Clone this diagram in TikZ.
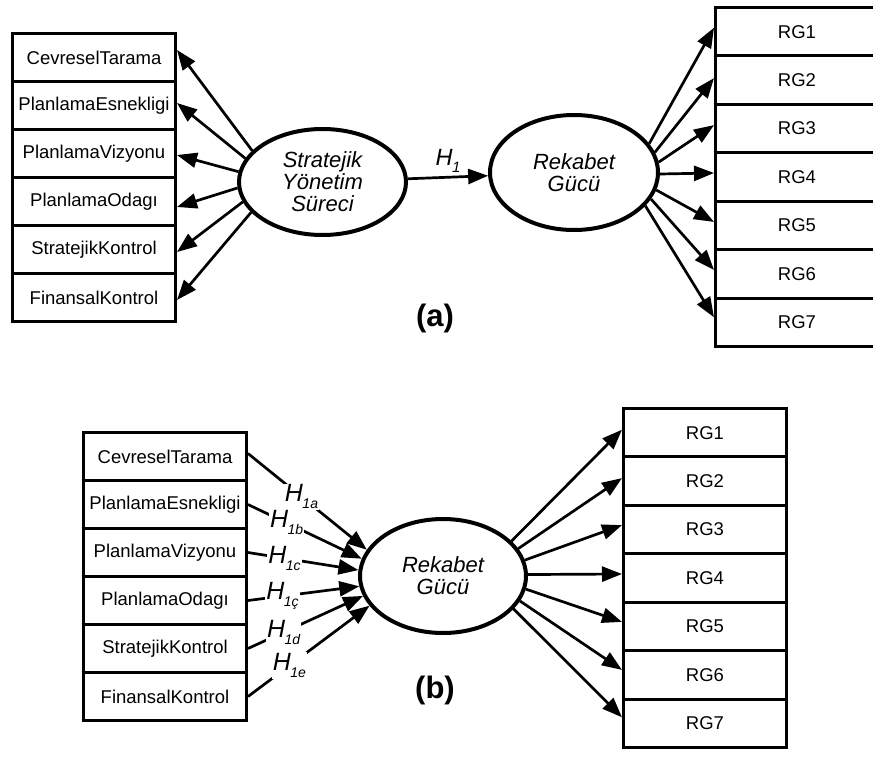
\documentclass[tikz,border=0pt]{standalone}
\usepackage{fontspec}
\setmainfont{Liberation Sans}
\usetikzlibrary{arrows.meta,shapes.geometric}
\newcommand{\Hs}[2][14]{H\kern-0.5pt\raisebox{-7pt}{\fontsize{#1}{#1}\selectfont #2}}
\begin{document}
\begin{tikzpicture}[x=1pt,y=-1pt,
  box/.style={draw, line width=3pt, minimum width=163pt, minimum height=48pt, inner sep=0pt, font=\fontsize{18.5}{20}\selectfont},
  rbox/.style={box, minimum height=48.43pt},
  ell/.style={draw, ellipse, line width=4pt, inner sep=0pt, align=center, font=\itshape\fontsize{22}{22}\selectfont},
  arr/.style={line width=2.7pt, -{Triangle[length=20pt,width=15pt]}},
  hl/.style={fill=white, inner sep=1pt, font=\itshape\fontsize{25}{25}\selectfont},
  lab/.style={font=\bfseries\fontsize{31}{31}\selectfont}]
\useasboundingbox (0,0) rectangle (873,763);
\clip (0,0) rectangle (873,763);

% ---------- (a) ----------
\node[box] (la1) at (94,57.5) {CevreselTarama};
\node[box] (la2) at (94,105.5) {PlanlamaEsnekligi};
\node[box] (la3) at (94,153.5) {PlanlamaVizyonu};
\node[box] (la4) at (94,201.5) {PlanlamaOdagı};
\node[box] (la5) at (94,249.5) {StratejikKontrol};
\node[box] (la6) at (94,297.5) {FinansalKontrol};

\node[ell, minimum width=167pt, minimum height=106pt] (ea) at (322.5,182) {Stratejik\\Yönetim\\Süreci};
\node[ell, minimum width=168pt, minimum height=115pt] (eb) at (574,172.5) {Rekabet\\Gücü};

\node[rbox] (ra1) at (797,31.7) {RG1};
\node[rbox] (ra2) at (797,80.1) {RG2};
\node[rbox] (ra3) at (797,128.6) {RG3};
\node[rbox] (ra4) at (797,177.0) {RG4};
\node[rbox] (ra5) at (797,225.4) {RG5};
\node[rbox] (ra6) at (797,273.9) {RG6};
\node[rbox] (ra7) at (797,322.3) {RG7};

\draw[arr] (ea.156) -- ([yshift=7.5pt]la1.east);
\draw[arr] (ea.163) -- ([yshift=2.5pt]la2.east);
\draw[arr] (ea.173) -- ([yshift=-1.5pt]la3.east);
\draw[arr] (ea.184) -- ([yshift=-5.5pt]la4.east);
\draw[arr] (ea.194) -- ([yshift=-2.5pt]la5.east);
\draw[arr] (ea.203) -- ([yshift=-2.5pt]la6.east);

\draw[arr] (ea) -- node[midway, above=3pt, inner sep=0pt, font=\itshape\fontsize{23.5}{23.5}\selectfont] {\Hs[15]{1}} (eb);

\draw[arr] (eb.21) -- ([yshift=4pt]ra1.west);
\draw[arr] (eb.14.5) -- ([yshift=2pt]ra2.west);
\draw[arr] (eb.7) -- ([yshift=3.5pt]ra3.west);
\draw[arr] (eb.-1) -- ([yshift=4pt]ra4.west);
\draw[arr] (eb.-12) -- ([yshift=3.5pt]ra5.west);
\draw[arr] (eb.-19) -- ([yshift=4pt]ra6.west);
\draw[arr] (eb.-25) -- ([yshift=5pt]ra7.west);

\node[lab] (capa) at (435,318) {(a)};

% ---------- (b) ----------
\node[box] (lb1) at (165,456.5) {CevreselTarama};
\node[box] (lb2) at (165,504.5) {PlanlamaEsnekligi};
\node[box] (lb3) at (165,552.5) {PlanlamaVizyonu};
\node[box] (lb4) at (165,600.5) {PlanlamaOdagı};
\node[box] (lb5) at (165,648.5) {StratejikKontrol};
\node[box] (lb6) at (165,696.5) {FinansalKontrol};

\node[ell, minimum width=166pt, minimum height=114pt] (ec) at (443,576) {Rekabet\\Gücü};

\node[rbox] (rb1) at (705,432.7) {RG1};
\node[rbox] (rb2) at (705,481.1) {RG2};
\node[rbox] (rb3) at (705,529.6) {RG3};
\node[rbox] (rb4) at (705,578.0) {RG4};
\node[rbox] (rb5) at (705,626.4) {RG5};
\node[rbox] (rb6) at (705,674.9) {RG6};
\node[rbox] (rb7) at (705,723.3) {RG7};

\draw[arr] ([yshift=3pt]lb1.east) -- node[hl, pos=0.45] {\Hs{1a}} (ec.161);
\draw[arr] (lb2.east) -- node[hl, pos=0.34] {\Hs{1b}} (ec.168);
\draw[arr] (lb3.east) -- node[hl, pos=0.33] {\Hs{1c}} (ec.176);
\draw[arr] (lb4.east) -- node[hl, pos=0.31] {\Hs{1ç}} (ec.187);
\draw[arr] (lb5.east) -- node[hl, pos=0.31] {\Hs{1d}} (ec.194);
\draw[arr] (lb6.east) -- node[hl, pos=0.34] {\Hs{1e}} (ec.202);

\draw[arr] (ec.27) -- ([yshift=3pt]rb1.west);
\draw[arr] (ec.20) -- ([yshift=3pt]rb2.west);
\draw[arr] (ec.11) -- ([yshift=4.5pt]rb3.west);
\draw[arr] (ec.1) -- ([yshift=4pt]rb4.west);
\draw[arr] (ec.-9.5) -- ([yshift=4.5pt]rb5.west);
\draw[arr] (ec.-18) -- ([yshift=5pt]rb6.west);
\draw[arr] (ec.-25) -- ([yshift=6pt]rb7.west);

\node[lab] (capb) at (435,690) {(b)};
\end{tikzpicture}
\end{document}
